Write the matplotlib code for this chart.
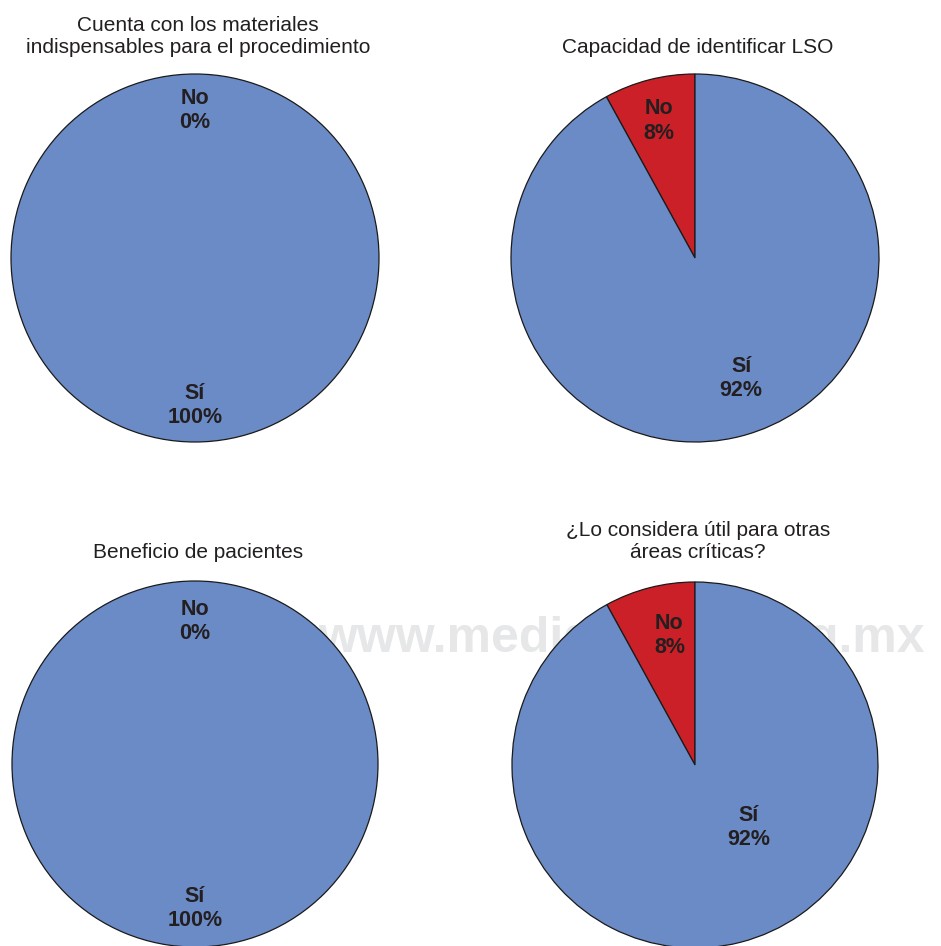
import numpy as np
import matplotlib
matplotlib.use("Agg")
import matplotlib.pyplot as plt

# ---- data ----
titles = [
    "Cuenta con los materiales\nindispensables para el procedimiento",
    "Capacidad de identificar LSO",
    "Beneficio de pacientes",
    "¿Lo considera útil para otras\náreas críticas?",
]
categories = ["No", "Sí"]
values_no = [0, 8, 0, 8]
values_si = [100, 92, 100, 92]

# ---- style ----
W, H = 941, 946
colors = ["#CB2027", "#6B8BC6"]
# pie centre (px) and radius (px)
centers = [(195, 258), (695, 258), (195, 764), (695, 765)]
radii = [184, 184, 183, 183]
title_bottom_px = [57, 57, 562, 562]
# label placement: (radius fraction, angle shift deg) for [No, Sí]
label_pos = [
    [(0.80, 0.0), (0.80, 0.0)],
    [(0.77, 0.4), (0.70, 6.6)],
    [(0.78, 0.0), (0.79, 0.0)],
    [(0.72, -3.2), (0.45, 26.5)],
]

plt.rcParams['font.family'] = ['Liberation Sans', 'DejaVu Sans']
fig = plt.figure(figsize=(W / 100, H / 100), dpi=100)
fig.patch.set_facecolor("white")

# watermark behind the pies
fig.text(318 / W, 1 - 652 / H, "www.medigraphic.org.mx", fontsize=36,
         fontweight="bold", color="#E6E7E9",
         ha="left", va="baseline", zorder=-5)

for i in range(4):
    cx, cy = centers[i]
    r = radii[i]
    ax = fig.add_axes([(cx - r) / W, 1 - (cy + r) / H, 2 * r / W, 2 * r / H])
    ax.set_facecolor("none")
    vals = [values_no[i], values_si[i]]
    wedges, _ = ax.pie(vals, colors=colors, startangle=90, counterclock=True,
                       radius=1.0,
                       wedgeprops=dict(edgecolor="#1a1a1a", linewidth=0.9))
    ax.set_xlim(-1, 1)
    ax.set_ylim(-1, 1)
    ax.set_aspect("equal")
    ax.axis("off")
    for j, w in enumerate(wedges):
        if vals[j] == 0:
            w.set_visible(False)
        th1, th2 = w.theta1, w.theta2
        mid = (th1 + th2) / 2.0
        rf, shift = label_pos[i][j]
        a = np.deg2rad(mid + shift)
        ax.text(rf * np.cos(a), rf * np.sin(a),
                f"{categories[j]}\n{vals[j]}%", ha="center", va="center",
                fontsize=15.5, fontweight="bold", color="#231F20",
                linespacing=1.2)
    fig.text(cx / W + 3 / W, 1 - title_bottom_px[i] / H, titles[i],
             ha="center", va="bottom", fontsize=15, color="#231F20",
             linespacing=1.2)

fig.savefig("out.png", dpi=100)
